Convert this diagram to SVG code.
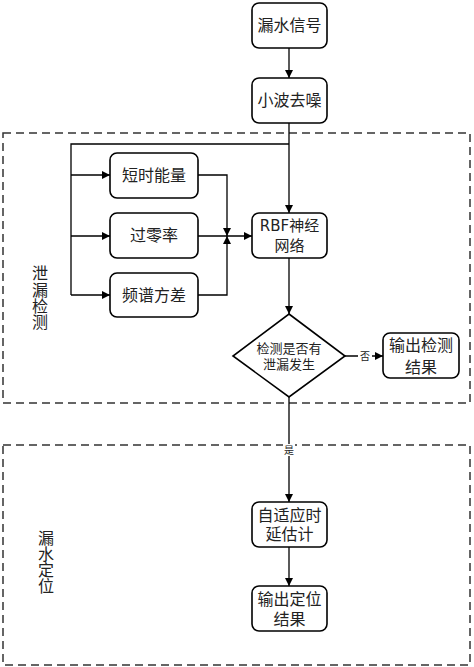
<svg xmlns="http://www.w3.org/2000/svg" width="474" height="667" viewBox="0 0 474 667">
<style>
.box{fill:#fff;stroke:#000;stroke-width:1.6}
.dash{fill:none;stroke:#333;stroke-width:1.5;stroke-dasharray:8,5}
.ln{fill:none;stroke:#000;stroke-width:1.3}
.t{font-family:"Liberation Serif","Noto Sans CJK SC",serif;font-size:16px;fill:#222;text-anchor:middle;dominant-baseline:central}
.s{font-family:"Liberation Serif","Noto Sans CJK SC",serif;font-size:13px;fill:#222;text-anchor:middle;dominant-baseline:central}
.r{font-family:"DejaVu Sans","Noto Sans CJK SC",sans-serif;font-size:15px;fill:#222;text-anchor:middle;dominant-baseline:central}
.lb{font-family:"Liberation Serif","Noto Sans CJK SC",serif;font-size:10px;fill:#222;text-anchor:middle;dominant-baseline:central}
</style>
<defs>
<marker id="a" markerWidth="8" markerHeight="8" refX="8" refY="4" orient="auto" markerUnits="userSpaceOnUse">
<path d="M0,0 L8,4 L0,8 Z" fill="#000"/>
</marker>
</defs>
<rect class="dash" x="3" y="133" width="467" height="270"/>
<rect class="dash" x="3" y="445" width="467" height="220"/>
<g id="connectors">
<line class="ln" x1="289" y1="48" x2="289" y2="78" marker-end="url(#a)"/>
<line class="ln" x1="289" y1="123" x2="289" y2="213" marker-end="url(#a)"/>
<polyline class="ln" points="289,144 71,144 71,295"/>
<line class="ln" x1="71" y1="175" x2="110" y2="175" marker-end="url(#a)"/>
<line class="ln" x1="71" y1="236" x2="110" y2="236" marker-end="url(#a)"/>
<line class="ln" x1="71" y1="295" x2="110" y2="295" marker-end="url(#a)"/>
<polyline class="ln" points="198,175 227,175 227,236" marker-end="url(#a)"/>
<polyline class="ln" points="198,295 227,295 227,236" marker-end="url(#a)"/>
<line class="ln" x1="198" y1="236" x2="252" y2="236" marker-end="url(#a)"/>
<line class="ln" x1="289" y1="258" x2="289" y2="314" marker-end="url(#a)"/>
<line class="ln" x1="345" y1="356" x2="383" y2="356" marker-end="url(#a)"/>
<rect x="358" y="350" width="14" height="12" fill="#fff"/>
<text class="lb" x="365" y="356">否</text>
<line class="ln" x1="289" y1="397" x2="289" y2="502" marker-end="url(#a)"/>
<rect x="283" y="444" width="12" height="12" fill="#fff"/>
<text class="lb" x="289" y="450">是</text>
<line class="ln" x1="289" y1="547" x2="289" y2="586" marker-end="url(#a)"/>
</g>
<g id="n1"><rect class="box" x="252" y="3" width="75" height="45" rx="7"/><text class="t" x="289.5" y="25.5">漏水信号</text></g>
<g id="n2"><rect class="box" x="252" y="78" width="75" height="45" rx="7"/><text class="t" x="289.5" y="100.5">小波去噪</text></g>
<g id="n3"><rect class="box" x="110" y="153" width="88" height="45" rx="7"/><text class="t" x="154" y="175.5">短时能量</text></g>
<g id="n4"><rect class="box" x="110" y="213" width="88" height="45" rx="7"/><text class="t" x="154" y="235.5">过零率</text></g>
<g id="n5"><rect class="box" x="110" y="273" width="88" height="44" rx="7"/><text class="t" x="154" y="295">频谱方差</text></g>
<g id="n6"><rect class="box" x="252" y="213" width="75" height="45" rx="7"/><text class="r" x="289.5" y="226">RBF神经</text><text class="r" x="289.5" y="246">网络</text></g>
<g id="n7"><polygon class="box" points="289,314 345,356 289,397 233,356"/><text class="s" x="289" y="348">检测是否有</text><text class="s" x="289" y="364">泄漏发生</text></g>
<g id="n8"><rect class="box" x="383" y="333" width="76" height="45" rx="7"/><text class="t" x="421" y="345">输出检测</text><text class="t" x="421" y="367">结果</text></g>
<g id="n9"><rect class="box" x="252" y="502" width="75" height="45" rx="7"/><text class="t" x="289.5" y="515">自适应时</text><text class="t" x="289.5" y="534">延估计</text></g>
<g id="n10"><rect class="box" x="252" y="586" width="75" height="45" rx="7"/><text class="t" x="289.5" y="599">输出定位</text><text class="t" x="289.5" y="619">结果</text></g>
<g id="lbl1"><text class="t" x="40" y="273">泄</text><text class="t" x="40" y="290">漏</text><text class="t" x="40" y="306">检</text><text class="t" x="40" y="322">测</text></g>
<g id="lbl2"><text class="t" x="46" y="538">漏</text><text class="t" x="46" y="554">水</text><text class="t" x="46" y="570">定</text><text class="t" x="46" y="586">位</text></g>
</svg>
